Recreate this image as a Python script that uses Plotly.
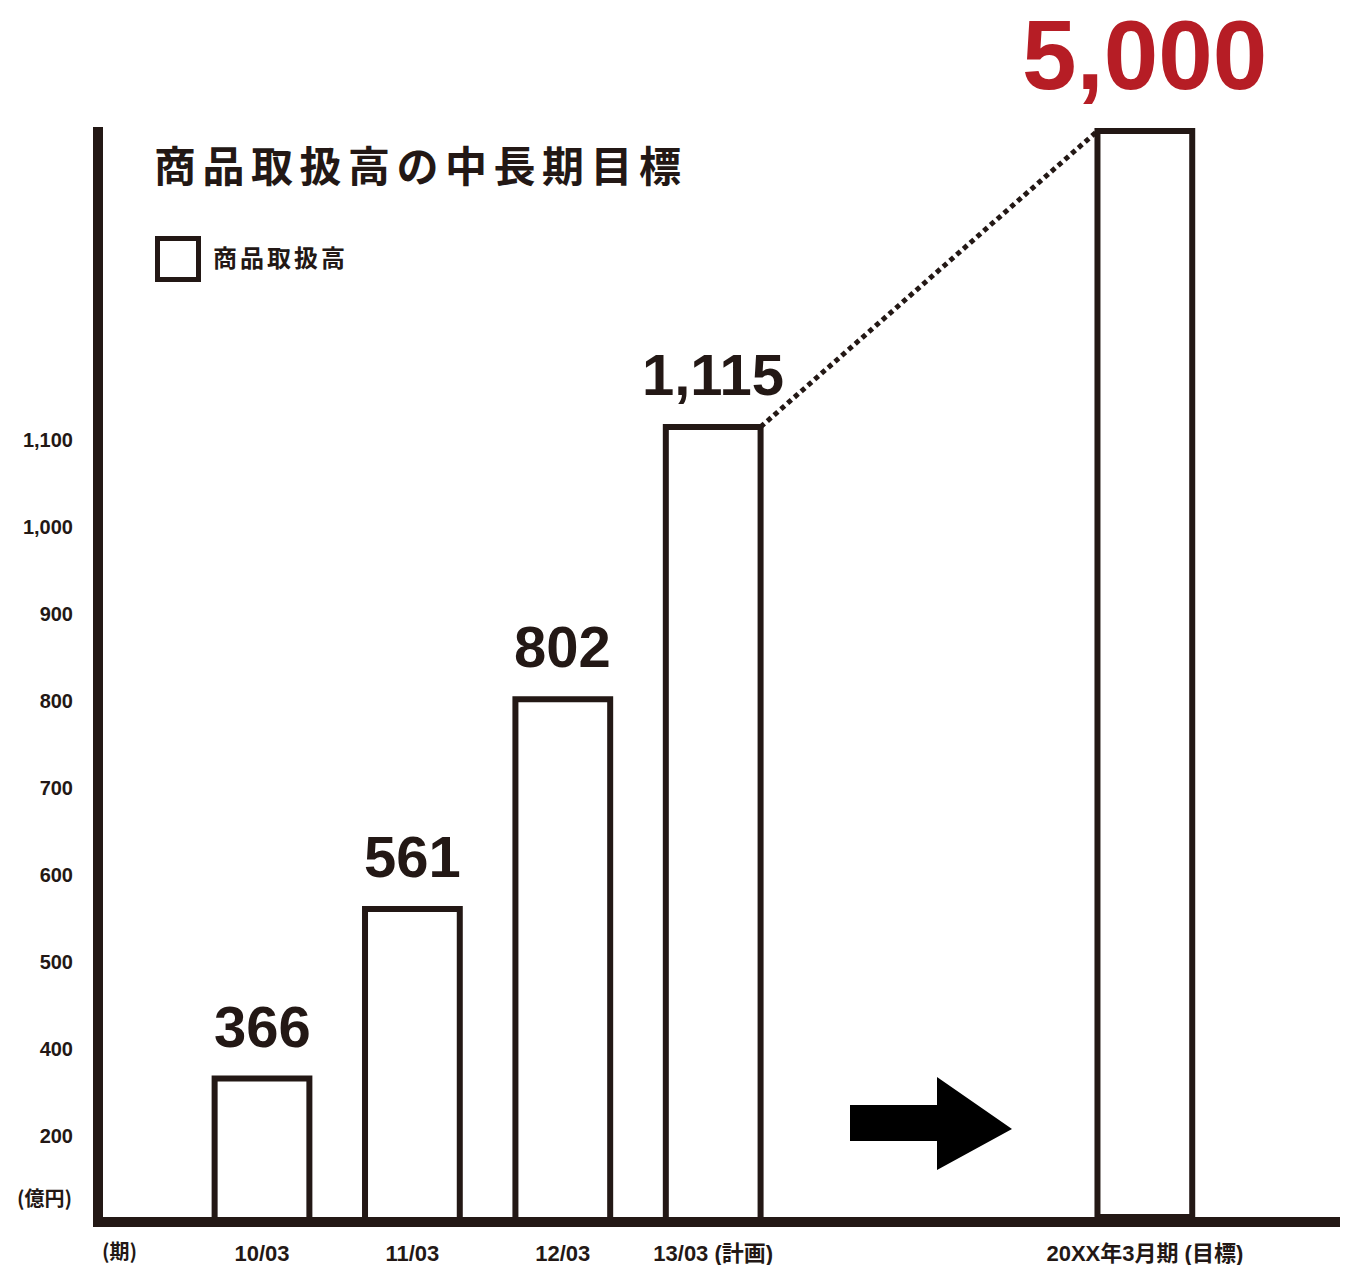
import plotly.graph_objects as go

# ---------------- data ----------------
categories = ["10/03", "11/03", "12/03", "13/03 (計画)", "20XX年3月期 (目標)"]
values = [366, 561, 802, 1115, 5000]
value_labels = ["366", "561", "802", "1,115", "5,000"]
y_tick_values = [300, 400, 500, 600, 700, 800, 900, 1000, 1100]
y_tick_labels = ["200", "400", "500", "600", "700", "800", "900", "1,000", "1,100"]
series_name = "商品取扱高"
chart_title = "商品取扱高の中長期目標"
y_unit = "(億円)"
x_unit = "(期)"

# ---------------- layout constants ----------------
W, H = 1346, 1265
L, R, T, B = 103, 1340, 127, 1217          # plot area in pixels
INK = "#231815"
RED = "#B61D25"
NUM_FONT = "Liberation Sans, Arial, sans-serif"
JP_FONT = "Liberation Sans, Noto Sans CJK JP, sans-serif"

# positions of the bars on a numeric x axis (last one set apart)
x_pos = [0, 1, 2, 3, 5.87]
bar_w = 0.63
X0_PX, X_STEP = 262, 150.4
x_range = [(L - X0_PX) / X_STEP, (R - X0_PX) / X_STEP]

# main (broken) value scale and separate scale for the target bar
Y_PX0, Y_PX_PER = 1397.0, 0.87
y_range = [(Y_PX0 - B) / Y_PX_PER, (Y_PX0 - T) / Y_PX_PER]
y2_top = 5000 * (B - T) / (B - 131)
y2_range = [0, y2_top]


def y_to_y2(v):
    return (v - y_range[0]) / (y_range[1] - y_range[0]) * y2_top


def pxx(px):
    return (px - L) / (R - L)


def pxy(py):
    return (B - py) / (B - T)


fig = go.Figure()

# actual results + plan on main axis
fig.add_trace(go.Bar(
    x=x_pos[:4], y=values[:4], width=bar_w, name=series_name,
    marker=dict(color="white", line=dict(color=INK, width=6)),
    showlegend=False, hoverinfo="skip",
))
# target bar on its own (compressed) scale
fig.add_trace(go.Bar(
    x=[x_pos[4]], y=[values[4]], width=bar_w, yaxis="y2", name=series_name,
    marker=dict(color="white", line=dict(color=INK, width=6)),
    showlegend=False, hoverinfo="skip",
))
# dotted connector from plan bar to target bar
fig.add_trace(go.Scatter(
    x=[x_pos[3] + bar_w / 2, x_pos[4] - bar_w / 2],
    y=[y_to_y2(values[3]), values[4]],
    yaxis="y2", mode="lines",
    line=dict(color=INK, width=5, dash="5px,4px"),
    showlegend=False, hoverinfo="skip",
))

annotations = []
for i in range(4):
    annotations.append(dict(
        x=x_pos[i], y=values[i], xref="x", yref="y",
        text=value_labels[i], showarrow=False, yanchor="bottom", yshift=18,
        font=dict(family=NUM_FONT, size=58, color=INK, weight="bold"),
    ))
annotations.append(dict(
    x=x_pos[4], y=values[4], xref="x", yref="y2",
    text=value_labels[4], showarrow=False, yanchor="bottom", yshift=19,
    font=dict(family=NUM_FONT, size=98, color=RED, weight="bold"),
))
# title (tracked lettering)
annotations.append(dict(
    x=pxx(152), y=pxy(163), xref="paper", yref="paper",
    text='<span style="letter-spacing:6.5px">' + chart_title + "</span>",
    showarrow=False, xanchor="left", yanchor="middle",
    font=dict(family="Noto Sans CJK JP", size=42, color=INK, weight="bold"),
))
# legend label
annotations.append(dict(
    x=pxx(211), y=pxy(257), xref="paper", yref="paper",
    text='<span style="letter-spacing:3px">' + series_name + "</span>",
    showarrow=False, xanchor="left", yanchor="middle",
    font=dict(family="Noto Sans CJK JP", size=24, color=INK, weight="bold"),
))
# unit labels
annotations.append(dict(
    x=pxx(74), y=pxy(1197), xref="paper", yref="paper",
    text=y_unit, showarrow=False, xanchor="right", yanchor="middle",
    font=dict(family="Noto Sans CJK JP", size=20, color=INK, weight="bold"),
))
annotations.append(dict(
    x=pxx(119), y=pxy(1250), xref="paper", yref="paper",
    text=x_unit, showarrow=False, xanchor="center", yanchor="middle",
    font=dict(family="Noto Sans CJK JP", size=20, color=INK, weight="bold"),
))

shapes = [
    # legend swatch
    dict(type="rect", xref="paper", yref="paper",
         x0=pxx(157.5), x1=pxx(198.5), y0=pxy(279.5), y1=pxy(238.5),
         line=dict(color=INK, width=5), fillcolor="white"),
    # arrow
    dict(type="path", xref="paper", yref="paper",
         path="M {} {} L {} {} L {} {} L {} {} L {} {} L {} {} L {} {} Z".format(
             pxx(850), pxy(1105), pxx(937), pxy(1105), pxx(937), pxy(1077),
             pxx(1012), pxy(1129), pxx(937), pxy(1170), pxx(937), pxy(1141),
             pxx(850), pxy(1141)),
         fillcolor="black", line=dict(width=0)),
]

fig.update_layout(
    width=W, height=H,
    margin=dict(l=L, r=W - R, t=T, b=H - B, autoexpand=False),
    paper_bgcolor="white", plot_bgcolor="white",
    barmode="overlay",
    showlegend=False,
    xaxis=dict(
        range=x_range, tickmode="array", tickvals=x_pos, ticktext=categories,
        showgrid=False, zeroline=False, showline=True, linecolor=INK, linewidth=10,
        ticks="", ticklabelstandoff=8, automargin=False,
        tickfont=dict(family=JP_FONT, size=22, color=INK, weight="bold"),
    ),
    yaxis=dict(
        range=y_range, tickmode="array", tickvals=y_tick_values, ticktext=y_tick_labels,
        showgrid=False, zeroline=False, showline=True, linecolor=INK, linewidth=10,
        ticks="", ticklabelstandoff=16, automargin=False,
        tickfont=dict(family=NUM_FONT, size=20, color=INK, weight="bold"),
    ),
    yaxis2=dict(range=y2_range, overlaying="y", visible=False, automargin=False),
    annotations=annotations,
    shapes=shapes,
)

fig.write_html("out.html", config={"displayModeBar": False},
               post_script="document.body.style.margin='0';")
